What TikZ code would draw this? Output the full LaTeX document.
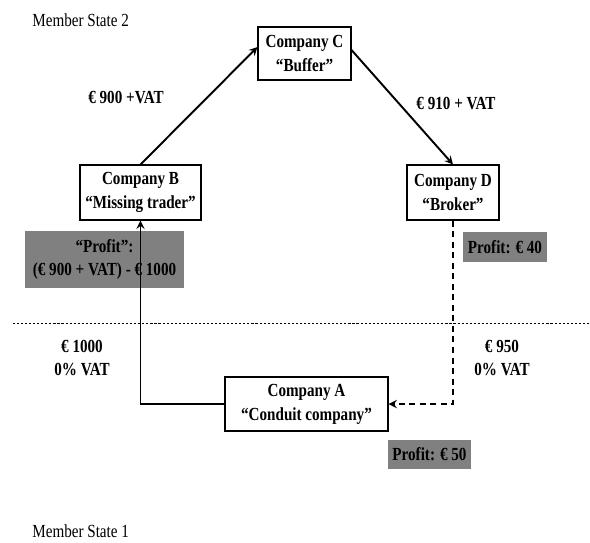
\documentclass[tikz,border=0pt]{standalone}
\usepackage{fontspec}
\setmainfont{Liberation Serif}[FakeStretch=0.82]
\usetikzlibrary{arrows}

\begin{document}
\begin{tikzpicture}[x=0.02cm,y=-0.02cm]

		% Define styles
		\tikzstyle{company} = [
		rectangle, draw=black, line width=0.6pt, fill=white,
		inner sep=0pt, text centered, align=center,
		font=\bfseries\fontsize{10.5}{13.6}\selectfont]
		\tikzstyle{profit} = [
		rectangle, fill=black!50, inner sep=0pt, align=center,
		font=\bfseries\fontsize{10.5}{13.6}\selectfont]
		\tikzstyle{amount} = [align=center,
		font=\bfseries\fontsize{10.5}{13.6}\selectfont]
		\tikzstyle{state} = [anchor=west, inner sep=0pt,
		font=\fontsize{10.5}{13}\selectfont]
		\tikzstyle{border} = [line width=0.5pt, dash pattern=on 1.2pt off 1.1pt]
		\tikzstyle{arrow} = [line width=1.1pt,->,>=stealth]
		\tikzstyle{darrow} = [line width=1.1pt,->,>=stealth,dash pattern=on 3.4pt off 2.6pt]

		\useasboundingbox (0,0) rectangle (590,542);

		% Member states
		\node (ms2) [state] at (32,20) {Member State 2};
		\node (ms1) [state] at (32,531) {Member State 1};
		\draw [border] (13,323) coordinate (lineL) -- (590,323) coordinate (lineR);

		% Profit boxes
		\node (profB) [profit, minimum width=3.18cm, minimum height=1.14cm]
			at (104.5,259.5) {“Profit”:\\(€ 900 + VAT) - € 1000};
		\node (profD) [profit, minimum width=1.68cm, minimum height=0.6cm]
			at (505,247) {Profit: € 40};
		\node (profA) [profit, minimum width=1.66cm, minimum height=0.58cm]
			at (429.5,454.5) {Profit: € 50};

		% Companies
		\node (compC) [company, minimum width=1.86cm, minimum height=1.06cm]
			at (304.5,53.5) {Company C\\“Buffer”};
		\node (compB) [company, minimum width=2.42cm, minimum height=1.1cm]
			at (140.5,192.5) {Company B\\“Missing trader”};
		\node (compD) [company, minimum width=1.84cm, minimum height=1.1cm]
			at (453,192.5) {Company D\\“Broker”};
		\node (compA) [company, minimum width=3.26cm, minimum height=1.08cm]
			at (306.5,404) {Company A\\“Conduit company”};

		% Arrows
		\draw [arrow] (compA.west) -| (compB.south);
		\draw [arrow] (compB.north) -- ([yshift=0.13cm]compC.west);
		\draw [arrow] ([yshift=0.07cm]compC.east) -- (compD.north);
		\draw [darrow] (compD.south) |- (compA.east);

		% Amounts
		\node (payBC) [amount] at (126,97) {€ 900 +VAT};
		\node (payCD) [amount] at (456,103) {€ 910 + VAT};
		\node (payAB) [amount] at (82,358) {€ 1000\\0\% VAT};
		\node (payDA) [amount] at (502,358) {€ 950\\0\% VAT};
	\end{tikzpicture}
\end{document}
